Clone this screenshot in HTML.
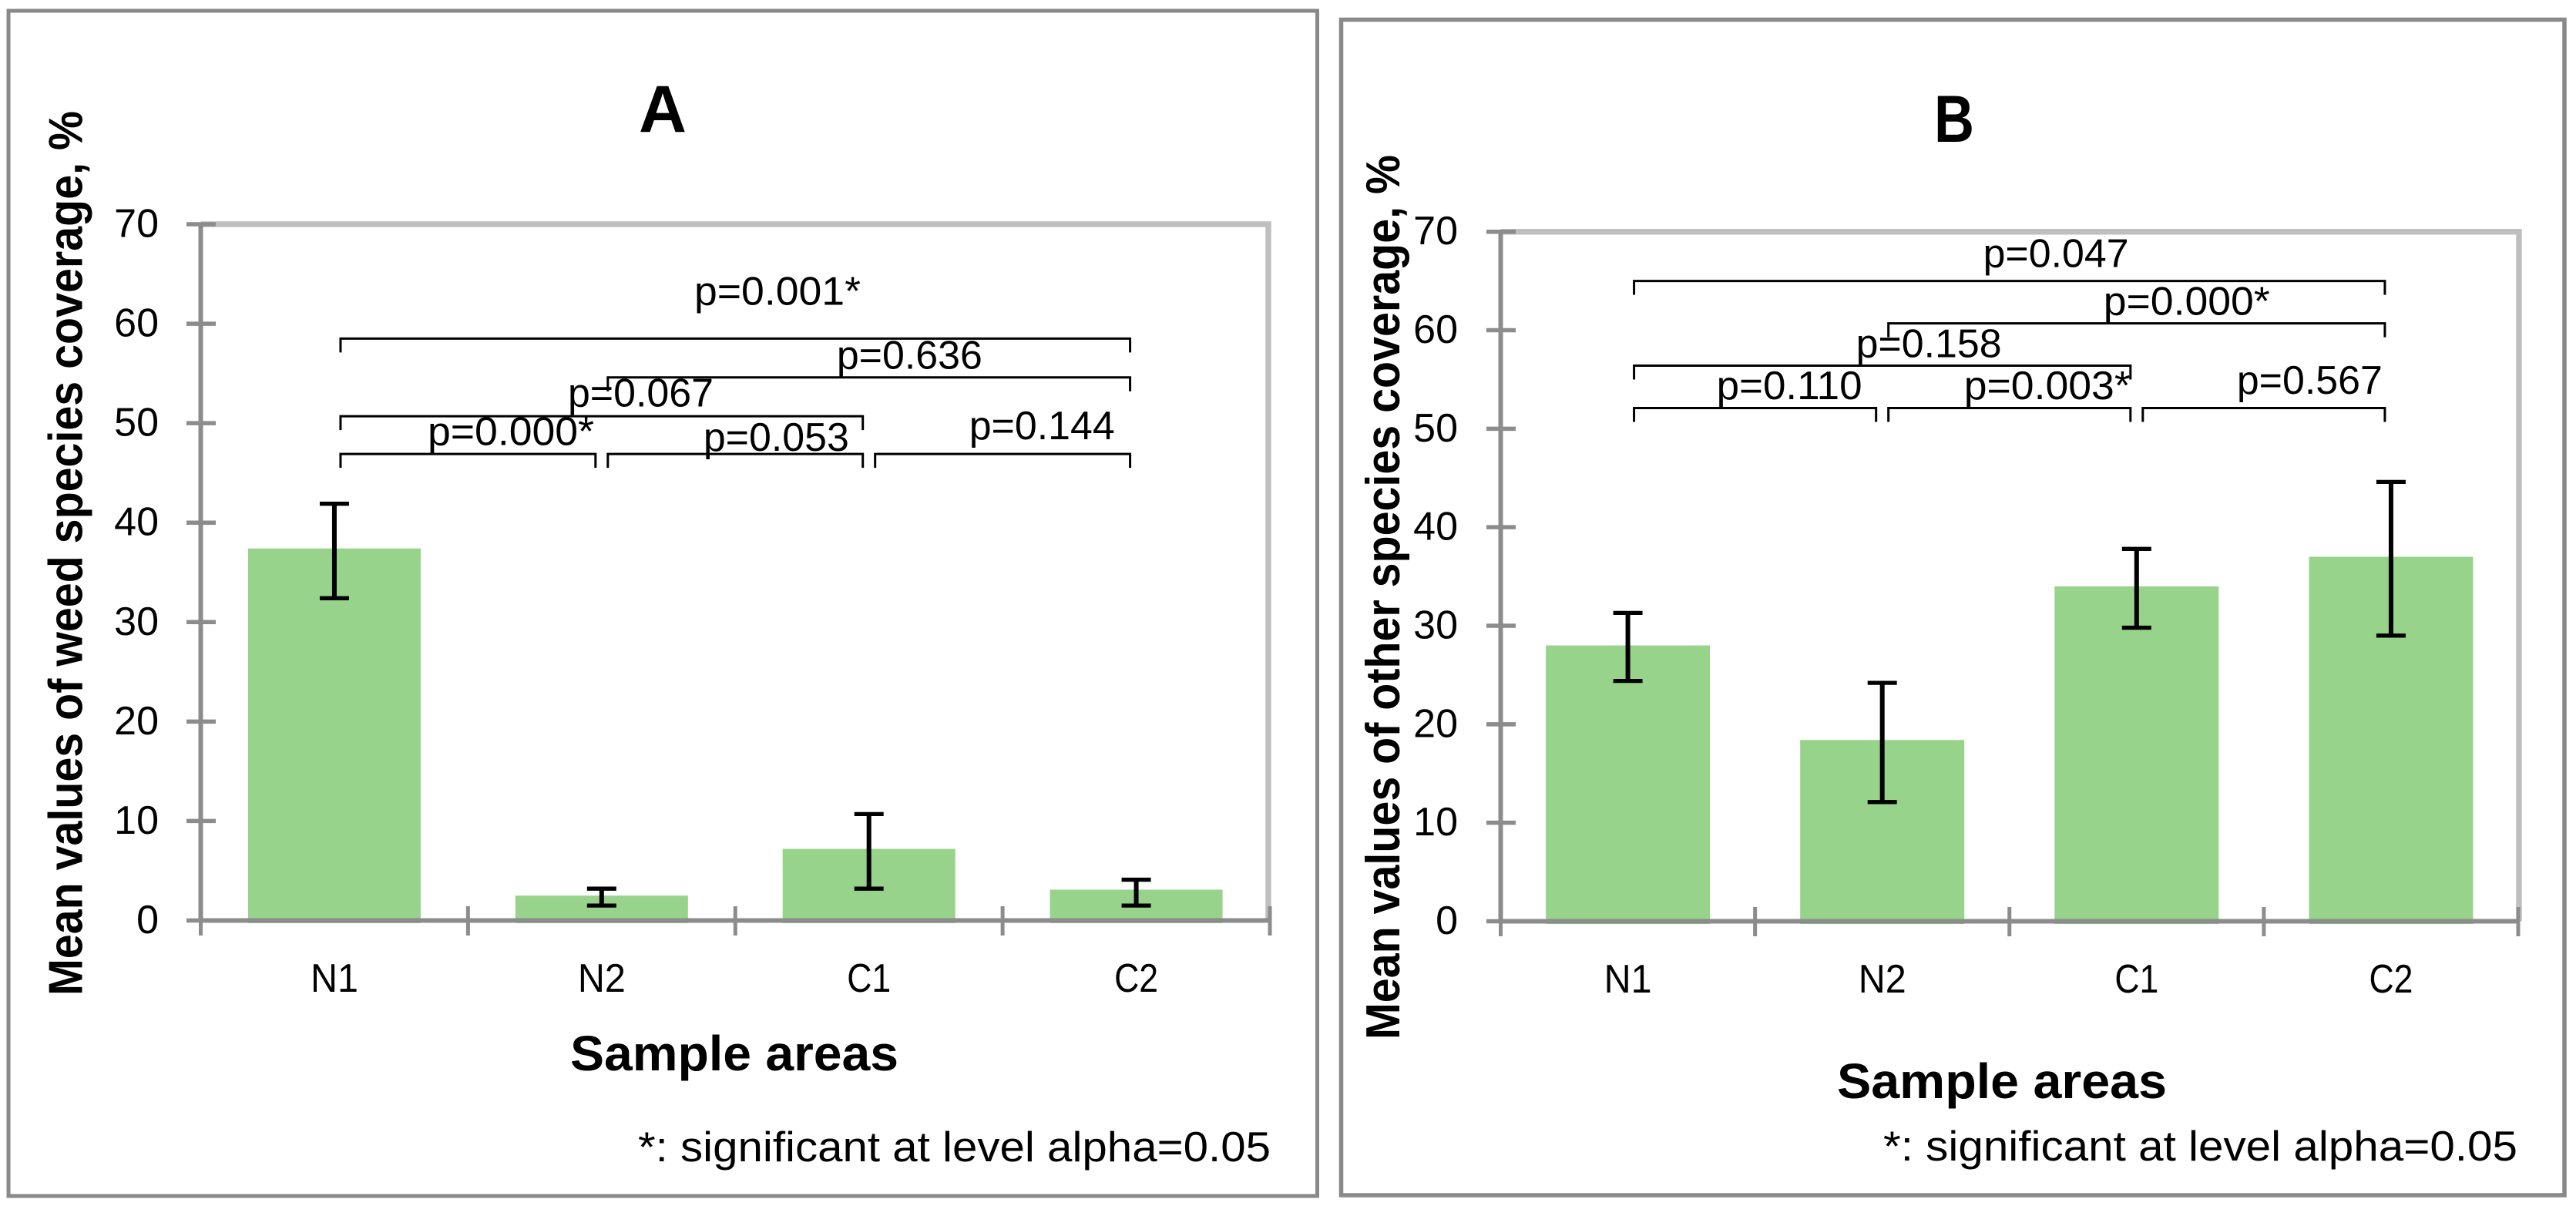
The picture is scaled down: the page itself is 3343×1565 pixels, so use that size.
<!DOCTYPE html>
<html lang="en">
<head>
<meta charset="utf-8">
<title>Mean species coverage by sample area</title>
<style>
html,body{margin:0;padding:0;background:#fff;}
svg{display:block;}
text{font-family:"Liberation Sans",sans-serif;fill:#000;}
.p{font-size:52px;}
.foot{font-size:55px;}
.ttl{font-size:64px;font-weight:bold;}
.ytl{font-size:62px;font-weight:bold;}
.letter{font-size:86px;font-weight:bold;}
</style>
</head>
<body>
<svg id="fig" xmlns="http://www.w3.org/2000/svg" width="3343" height="1565" viewBox="0 0 3343 1565">
  <rect width="3343" height="1565" fill="#fff"/>

  <g id="panel-a">
    <rect x="11" y="14" width="1698.5" height="1538" fill="#fff" stroke="#898989" stroke-width="5"/>
    <text class="letter" x="829" y="171" textLength="62" lengthAdjust="spacingAndGlyphs">A</text>
    <text class="ytl" transform="translate(106.5,1292) rotate(-90)" textLength="1148" lengthAdjust="spacingAndGlyphs">Mean values of weed species coverage, %</text>
    <text class="ttl" x="740" y="1389" textLength="426" lengthAdjust="spacingAndGlyphs">Sample areas</text>
    <text class="foot" x="828" y="1507" textLength="821" lengthAdjust="spacingAndGlyphs">*: significant at level alpha=0.05</text>
  </g>

  <g id="panel-b">
    <rect x="1740.5" y="25.5" width="1587.5" height="1525.5" fill="#fff" stroke="#898989" stroke-width="5.5"/>
    <text class="letter" x="2510" y="184" textLength="52" lengthAdjust="spacingAndGlyphs">B</text>
    <text class="ytl" transform="translate(1816,1349) rotate(-90)" textLength="1148" lengthAdjust="spacingAndGlyphs">Mean values of other species coverage, %</text>
    <text class="ttl" x="2384" y="1425" textLength="428" lengthAdjust="spacingAndGlyphs">Sample areas</text>
    <text class="foot" x="2444" y="1506" textLength="823" lengthAdjust="spacingAndGlyphs">*: significant at level alpha=0.05</text>
  </g>
</svg>

<script>
// ---- chart data ----
const categories = ['N1', 'N2', 'C1', 'C2'];
const tickLabels = [0, 10, 20, 30, 40, 50, 60, 70];

const weedMeans = [37.4, 2.5, 7.2, 3.1];
const weedUpper = [41.9, 3.2, 10.7, 4.1];
const weedLower = [32.4, 1.5, 3.2, 1.5];

const otherMeans = [28.0, 18.4, 34.0, 37.0];
const otherUpper = [31.3, 24.2, 37.8, 44.6];
const otherLower = [24.4, 12.1, 29.8, 29.0];

// significance brackets: from-category index, to-category index, axis level
const weedBracketFrom = [0, 1, 0, 0, 1, 2];
const weedBracketTo = [3, 3, 2, 1, 2, 3];
const weedBracketLevel = [58.5, 54.6, 50.7, 46.9, 46.9, 46.9];
const weedBracketP = ['p=0.001*', 'p=0.636', 'p=0.067', 'p=0.000*', 'p=0.053', 'p=0.144'];

const otherBracketFrom = [0, 1, 0, 0, 1, 2];
const otherBracketTo = [3, 3, 2, 1, 2, 3];
const otherBracketLevel = [65.0, 60.7, 56.4, 52.1, 52.1, 52.1];
const otherBracketP = ['p=0.047', 'p=0.000*', 'p=0.158', 'p=0.110', 'p=0.003*', 'p=0.567'];

// ---- drawing ----
const NS = 'http://www.w3.org/2000/svg';

function mk(parent, tag, attrs) {
  const el = document.createElementNS(NS, tag);
  for (const k in attrs) el.setAttribute(k, attrs[k]);
  parent.appendChild(el);
  return el;
}

function drawChart(cfg) {
  const g = document.getElementById(cfg.id);
  const left = cfg.left, right = cfg.right, top = cfg.top, base = cfg.base;
  const axisMax = tickLabels[tickLabels.length - 1];
  const yScale = v => base - (v / axisMax) * (base - top);
  const step = (right - left) / categories.length;
  const xCenter = i => left + step * (i + 0.5);

  // top + right plot border
  const border = mk(g, 'path', {
    d: 'M' + left + ' ' + top + 'H' + cfg.borderRight + 'V' + base,
    fill: 'none', stroke: '#bfbfbf', 'stroke-width': 7.5
  });
  
  

  // bars
  categories.forEach((c, i) => {
    const bar = mk(g, 'rect', {
      x: xCenter(i) - cfg.barW / 2,
      y: yScale(cfg.means[i]),
      width: cfg.barW,
      height: base + 3.5 - yScale(cfg.means[i]),
      fill: '#97d38b'
    });
    
    
  });

  // axes
  const yAxis = mk(g, 'line', { x1: left, x2: left, y1: top, y2: base, stroke: '#8c8c8c', 'stroke-width': 6 });
  
  

  const xAxis = mk(g, 'line', { x1: left, x2: right, y1: base, y2: base, stroke: '#8c8c8c', 'stroke-width': 6 });
  
  

  tickLabels.forEach(t => {
    const y = yScale(t);
    const tick = mk(g, 'line', { x1: left - 18.5, x2: left + 19.5, y1: y, y2: y, stroke: '#8c8c8c', 'stroke-width': 5.5 });
    
    

    const lab = mk(g, 'text', { x: cfg.yLabelX, y: y + 16.5, 'text-anchor': 'end', 'font-size': 52 });
    lab.textContent = String(t);
    
    
  });

  for (let i = 0; i <= categories.length; i++) {
    const x = left + step * i;
    const tick = mk(g, 'line', { x1: x, x2: x, y1: base - 18.5, y2: base + 19.5, stroke: '#8c8c8c', 'stroke-width': 5 });
    
    
  }

  categories.forEach((c, i) => {
    const lab = mk(g, 'text', {
      x: xCenter(i), y: cfg.catY, 'text-anchor': 'middle', 'font-size': 52,
      textLength: c[0] === 'N' ? 62 : 57, lengthAdjust: 'spacingAndGlyphs'
    });
    lab.textContent = c;
    
    
  });

  // error bars
  categories.forEach((c, i) => {
    const x = xCenter(i);
    const up = yScale(cfg.upper[i]);
    const lo = yScale(cfg.lower[i]);

    const stem = mk(g, 'line', { x1: x, x2: x, y1: up, y2: lo, stroke: '#000', 'stroke-width': 6 });
    
    

    const capUp = mk(g, 'line', { x1: x - 19, x2: x + 19, y1: up, y2: up, stroke: '#000', 'stroke-width': 5.3 });
    
    

    const capLo = mk(g, 'line', { x1: x - 19, x2: x + 19, y1: lo, y2: lo, stroke: '#000', 'stroke-width': 5.3 });
    
    
  });

  // significance brackets and p-value labels
  cfg.brFrom.forEach((from, i) => {
    const x1 = xCenter(from) + 8;
    const x2 = xCenter(cfg.brTo[i]) - 8;
    const y = yScale(cfg.brLevel[i]);
    const br = mk(g, 'path', {
      d: 'M' + x1 + ' ' + (y + 18) + 'V' + y + 'H' + x2 + 'V' + (y + 18),
      fill: 'none', stroke: '#000', 'stroke-width': 3
    });
    
    

    const lab = mk(g, 'text', {
      x: x1 + cfg.pDx[i], y: y + cfg.pDy[i], 'font-size': 52,
      textLength: cfg.brP[i].endsWith('*') ? 216 : 189, lengthAdjust: 'spacingAndGlyphs'
    });
    lab.textContent = cfg.brP[i];
    
    
  });
}

drawChart({
  id: 'panel-a', left: 260.5, right: 1648, borderRight: 1646, top: 291, base: 1194.5, barW: 224,
  yLabelX: 206, catY: 1287,
  means: weedMeans, upper: weedUpper, lower: weedLower,
  brFrom: weedBracketFrom, brTo: weedBracketTo, brLevel: weedBracketLevel, brP: weedBracketP,
  pDx: [459, 297, 295, 113, 124, 122],
  pDy: [-44, -11.5, -12.5, -11.5, -4, -19]
});

drawChart({
  id: 'panel-b', left: 1947.5, right: 3268, borderRight: 3269, top: 300.7, base: 1195.5, barW: 213,
  yLabelX: 1892, catY: 1288,
  means: otherMeans, upper: otherUpper, lower: otherLower,
  brFrom: otherBracketFrom, brTo: otherBracketTo, brLevel: otherBracketLevel, brP: otherBracketP,
  pDx: [453, 279, 288, 107, 98, 122],
  pDy: [-18, -11, -11, -11.5, -11.5, -18.5]
});
</script>
</body>
</html>
